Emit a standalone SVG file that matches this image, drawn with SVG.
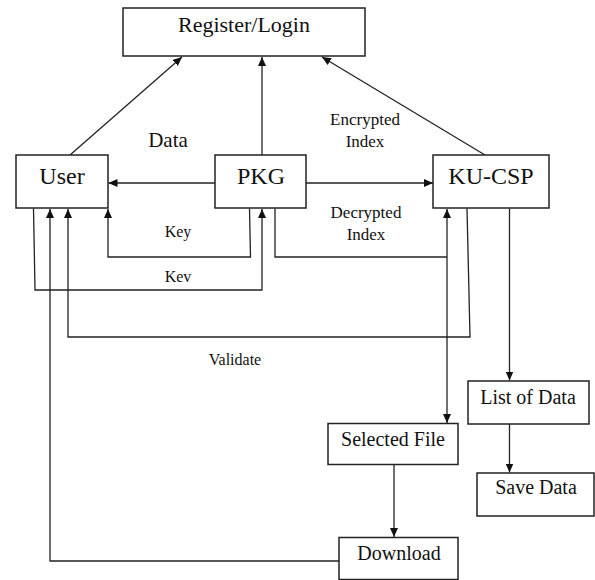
<svg xmlns="http://www.w3.org/2000/svg" width="595" height="580" viewBox="0 0 595 580">
  <style>
    .box { fill: #ffffff; stroke: #222222; stroke-width: 1.5; }
    .lbl { font-family: "Liberation Serif", "Times New Roman", serif; fill: #111111; text-anchor: middle; }
    .big { font-size: 24px; }
    .mid { font-size: 20px; }
    .small { font-size: 16px; }
    .edge { fill: none; stroke: #222222; stroke-width: 1.3; }
    .arr { marker-end: url(#head); }
  </style>
  <defs>
    <marker id="head" markerUnits="userSpaceOnUse" markerWidth="9" markerHeight="8" refX="9" refY="4" orient="auto">
      <path d="M0,0 L9,4 L0,8 z" fill="#111111"/>
    </marker>
    <marker id="tail" markerUnits="userSpaceOnUse" markerWidth="9" markerHeight="8" refX="0" refY="4" orient="auto">
      <path d="M9,0 L0,4 L9,8 z" fill="#111111"/>
    </marker>
  </defs>

  <rect width="595" height="580" fill="#ffffff"/>

  <!-- connectors -->
  <g id="connectors">
    <!-- up to Register/Login -->
    <line class="edge arr" x1="70" y1="155" x2="182" y2="57"/>
    <line class="edge arr" x1="262" y1="155" x2="262" y2="57"/>
    <line class="edge arr" x1="485" y1="155" x2="322" y2="57"/>
    <!-- PKG sideways -->
    <line class="edge arr" x1="215" y1="183" x2="108.5" y2="183"/>
    <line class="edge arr" x1="306" y1="183" x2="433" y2="183"/>
    <!-- Key: PKG to User -->
    <polyline class="edge arr" points="249.5,208.5 250.5,257 108,257 108,209"/>
    <!-- Kev: User to PKG -->
    <polyline class="edge arr" points="33.5,208.5 35,290 262,290 262,209"/>
    <!-- Validate: KU-CSP to User -->
    <polyline class="edge arr" points="467,208.5 470,337 68,337 68,209"/>
    <!-- Decrypted Index: PKG to KU-CSP, on to Selected File -->
    <polyline class="edge" points="275,208.5 275,257 447,257"/>
    <line class="edge" x1="447" y1="423" x2="447" y2="209" style="marker-start:url(#tail);marker-end:url(#head)"/>
    <!-- KU-CSP to List of Data to Save Data -->
    <line class="edge arr" x1="509.5" y1="208.5" x2="509.5" y2="380.5"/>
    <line class="edge arr" x1="509.5" y1="424" x2="509.5" y2="472.5"/>
    <!-- Selected File to Download -->
    <line class="edge arr" x1="394" y1="464" x2="394" y2="537"/>
    <!-- Download back to User -->
    <polyline class="edge arr" points="339,561 50,561 50,209"/>
  </g>

  <!-- nodes -->
  <g id="register-login">
    <rect class="box" x="123" y="8" width="242" height="48"/>
    <text class="lbl" x="244" y="32" style="font-size:22px">Register/Login</text>
  </g>
  <g id="user">
    <rect class="box" x="16" y="155" width="92" height="53"/>
    <text class="lbl big" x="62" y="184">User</text>
  </g>
  <g id="pkg">
    <rect class="box" x="215" y="155" width="91" height="53"/>
    <text class="lbl big" x="261" y="184">PKG</text>
  </g>
  <g id="ku-csp">
    <rect class="box" x="433" y="155" width="116" height="53"/>
    <text class="lbl big" x="491" y="184">KU-CSP</text>
  </g>
  <g id="list-of-data">
    <rect class="box" x="468" y="381" width="121" height="43"/>
    <text class="lbl mid" x="528" y="404">List of Data</text>
  </g>
  <g id="save-data">
    <rect class="box" x="477" y="473" width="117" height="43"/>
    <text class="lbl mid" x="536" y="494">Save Data</text>
  </g>
  <g id="selected-file">
    <rect class="box" x="328" y="423.5" width="130" height="41"/>
    <text class="lbl mid" x="393" y="446">Selected File</text>
  </g>
  <g id="download">
    <rect class="box" x="339" y="537.5" width="119" height="42"/>
    <text class="lbl mid" x="399" y="560">Download</text>
  </g>

  <!-- edge labels -->
  <g id="labels">
    <text class="lbl" x="168" y="147" style="font-size:21px">Data</text>
    <text class="lbl" x="365" y="125" style="font-size:17px">Encrypted</text>
    <text class="lbl" x="365" y="147" style="font-size:17px">Index</text>
    <text class="lbl" x="366" y="218" style="font-size:17px">Decrypted</text>
    <text class="lbl" x="366" y="240" style="font-size:17px">Index</text>
    <text class="lbl small" x="178" y="237">Key</text>
    <text class="lbl small" x="178" y="282">Kev</text>
    <text class="lbl small" x="235" y="365">Validate</text>
  </g>
</svg>
